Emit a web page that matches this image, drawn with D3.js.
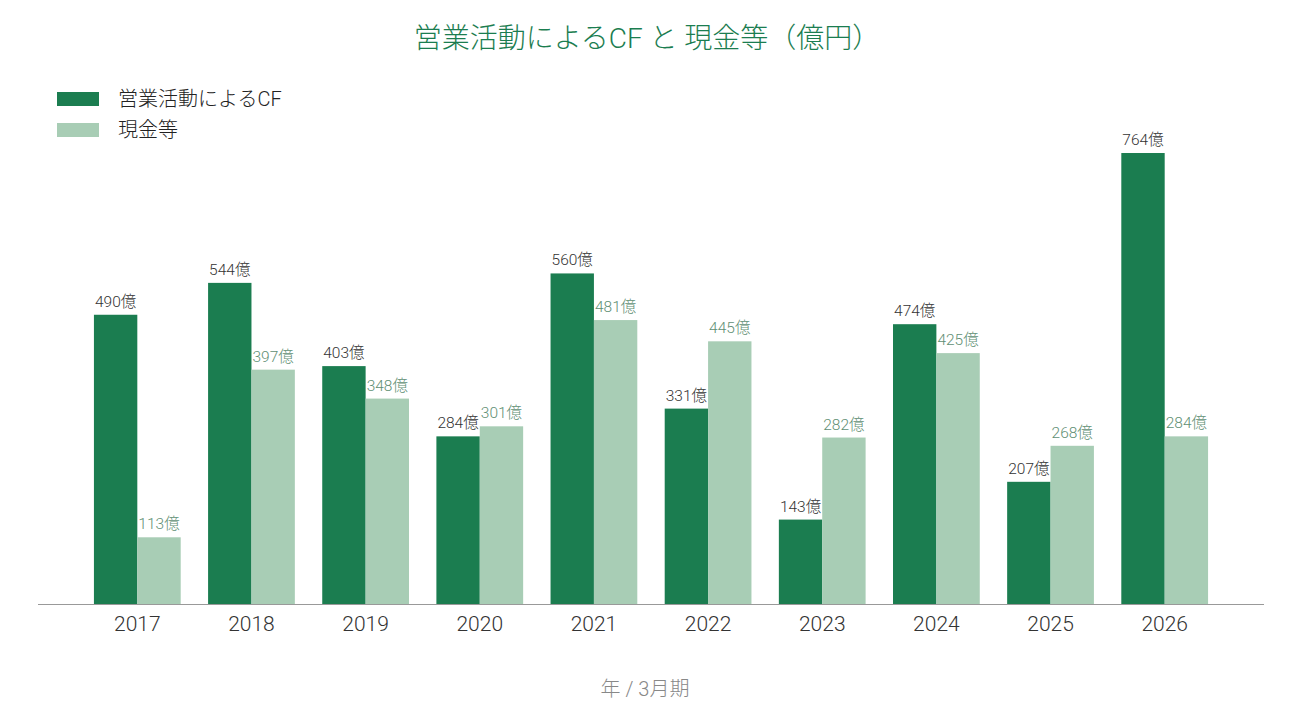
<!DOCTYPE html>
<html>
<head>
<meta charset="utf-8">
<script src="https://cdn.jsdelivr.net/npm/d3@7"></script>
<style>
  body { margin: 0; background: #fff; }
  svg text { font-family: Roboto, "Noto Sans CJK JP", sans-serif; font-weight: 300; }
</style>
</head>
<body>
<svg id="chart" width="1290" height="720"></svg>
<script>
var years = ["2017", "2018", "2019", "2020", "2021", "2022", "2023", "2024", "2025", "2026"];
var operatingCF = [490, 544, 403, 284, 560, 331, 143, 474, 207, 764];
var cashEq = [113, 397, 348, 301, 481, 445, 282, 425, 268, 284];
var seriesNames = ["営業活動によるCF", "現金等"];

var darkGreen = "#1b7d50",
    lightGreen = "#a8cdb5";

var svg = d3.select("#chart");
var baseY = 604;

var x0 = d3.scaleBand()
    .domain(years)
    .range([38, 1264])
    .paddingInner(0.24)
    .paddingOuter(0.49);

var x1 = d3.scaleBand()
    .domain([0, 1])
    .range([0, x0.bandwidth()]);

var yScale = d3.scaleLinear()
    .domain([0, 900])
    .range([baseY, baseY - 900 * 0.5903]);

// title
svg.append("text")
    .attr("x", 647)
    .attr("y", 48)
    .attr("text-anchor", "middle")
    .style("font-size", "28px")
    .style("fill", darkGreen)
    .text("営業活動によるCF と 現金等（億円）");

// legend
var legend = svg.selectAll(".legend")
    .data(seriesNames)
    .enter().append("g")
    .attr("class", "legend")
    .attr("transform", function(d, i) { return "translate(57," + (92 + i * 31) + ")"; });

legend.append("rect")
    .attr("width", 42)
    .attr("height", 14)
    .style("fill", function(d, i) { return i == 0 ? darkGreen : lightGreen; });

legend.append("text")
    .attr("x", 61)
    .attr("y", 7)
    .attr("dy", ".35em")
    .style("font-size", "20px")
    .style("fill", "#222")
    .text(function(d) { return d; });

var rows = years.map(function(y, i) { return { year: y, vals: [operatingCF[i], cashEq[i]] }; });

var groups = svg.selectAll(".grp")
    .data(rows)
    .enter().append("g")
    .attr("class", "grp")
    .attr("transform", function(d) { return "translate(" + x0(d.year) + ",0)"; });

groups.selectAll("rect")
    .data(function(d) { return d.vals; })
    .enter().append("rect")
    .attr("x", function(d, i) { return x1(i); })
    .attr("width", x1.bandwidth())
    .attr("y", function(d) { return yScale(d); })
    .attr("height", function(d) { return baseY - yScale(d); })
    .style("fill", function(d, i) { return i == 0 ? darkGreen : lightGreen; });

groups.selectAll(".val")
    .data(function(d) { return d.vals; })
    .enter().append("text")
    .attr("class", "val")
    .attr("x", function(d, i) { return x1(i) + x1.bandwidth() / 2; })
    .attr("y", function(d) { return yScale(d) - 8; })
    .attr("text-anchor", "middle")
    .style("font-size", "15.5px")
    .style("fill", function(d, i) { return i == 0 ? "#333" : "#5f8f74"; })
    .text(function(d) { return d + "億"; });

// x axis
var xAxis = svg.append("g")
    .attr("transform", "translate(0," + baseY + ")")
    .call(d3.axisBottom(x0).tickSize(0).tickPadding(9));

xAxis.select(".domain").attr("stroke", "#999").attr("d", "M38,0.5H1264");
xAxis.selectAll(".tick text")
    .style("font-size", "21px")
    .style("fill", "#333")
    .attr("dy", "0.85em");

svg.append("text")
    .attr("x", 645)
    .attr("y", 696)
    .attr("text-anchor", "middle")
    .style("font-size", "20px")
    .style("fill", "#888")
    .text("年 / 3月期");
</script>
</body>
</html>
